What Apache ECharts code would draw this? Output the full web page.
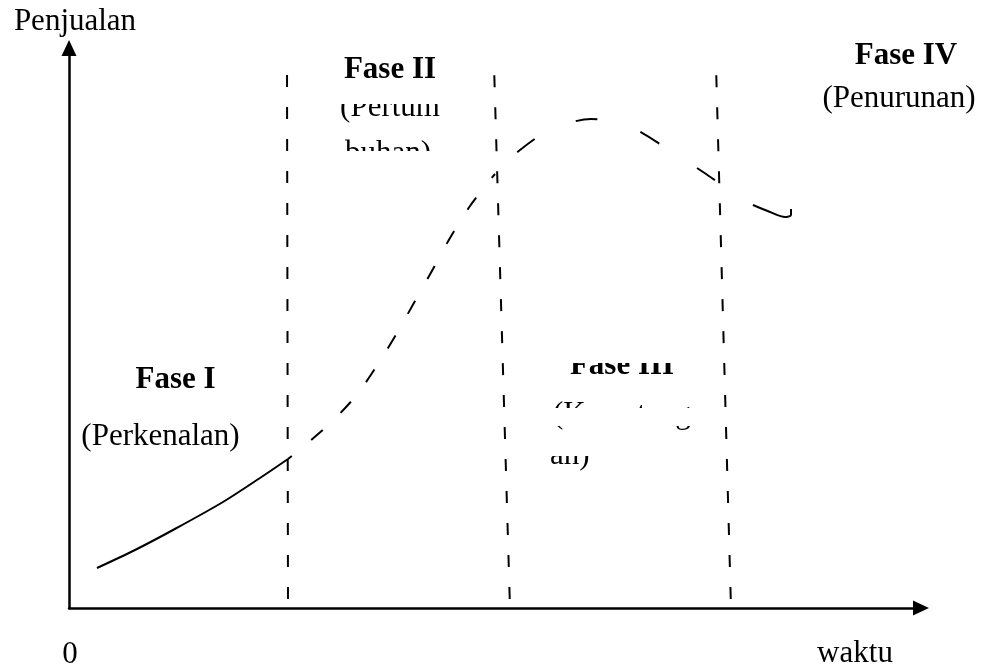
<!DOCTYPE html>
<html>
<head>
<meta charset="utf-8">
<script src="https://cdn.jsdelivr.net/npm/echarts@6/dist/echarts.min.js"></script>
<style>
html, body { margin: 0; background: #fff; }
#main { width: 984px; height: 670px; }
</style>
</head>
<body>
<div id="main"></div>
<script>
// axis units: x from the vertical axis, y up from the time axis
var introX = [28, 66, 104, 154, 191, 219];
var introY = [40, 58, 78, 106, 130, 149];
var growthX = [219, 256, 286, 309, 328, 346, 364, 381, 401, 426];
var growthY = [149, 180, 211, 244, 275, 307, 339, 370, 402, 434];
var laterX = [426, 451, 481, 522, 561, 594, 634, 666, 684];
var laterY = [434, 458, 478, 489, 481, 462, 436, 414, 403];
var tailX = [684, 701, 716, 722, 722];
var tailY = [403, 396, 391, 393, 399];

// phase borders (dashed, slightly slanted)
var borderBottomX = [219, 441, 662];
var borderTopX = [218, 425, 647];
var borderTopY = 543;

var phaseTitles = ['Fase I', 'Fase II', 'Fase III', 'Fase IV'];
var phaseNames = [['(Perkenalan)'], ['(Pertum', 'buhan)'], ['(Kematang', 'an)'], ['(Penurunan)']];

function pairs(xs, ys) {
    return xs.map(function (x, i) { return [x, ys[i]]; });
}

var serif = '"Liberation Serif", "Times New Roman", serif';
var normalFont = '31px ' + serif;
var boldFont = 'bold 31px ' + serif;

function txt(text, x, y, font, align) {
    return {
        type: 'text',
        x: x,
        y: y,
        z: 50,
        style: {
            text: text,
            font: font,
            fill: '#000',
            align: align || 'center',
            verticalAlign: 'middle'
        }
    };
}
function blank(x, y, w, h) {
    return {
        type: 'rect',
        z: 60,
        shape: { x: x, y: y, width: w, height: h },
        style: { fill: '#fff' }
    };
}

var series = [];
borderBottomX.forEach(function (bx, i) {
    series.push({
        type: 'line',
        data: [[bx, 0], [borderTopX[i], borderTopY]],
        symbol: 'none',
        silent: true,
        lineStyle: { color: '#000', width: 2, type: [12, 20], dashOffset: 23 }
    });
});
series.push({
    type: 'line',
    data: pairs(introX, introY),
    symbol: 'none',
    smooth: 0.3,
    lineStyle: { color: '#000', width: 2 }
});
series.push({
    type: 'line',
    data: pairs(growthX, growthY),
    symbol: 'none',
    smooth: 0.3,
    lineStyle: { color: '#000', width: 2, type: [15, 25], dashOffset: 10 }
});
series.push({
    type: 'line',
    data: pairs(laterX, laterY),
    symbol: 'none',
    smooth: 0.3,
    lineStyle: { color: '#000', width: 2, type: [22, 45], dashOffset: 36 }
});
series.push({
    type: 'line',
    data: pairs(tailX, tailY),
    symbol: 'none',
    smooth: 0.3,
    lineStyle: { color: '#000', width: 2 }
});

var myChart = echarts.init(document.getElementById('main'));
var option = {
    backgroundColor: '#fff',
    animation: false,
    grid: { left: 69, right: 63, top: 48, bottom: 62 },
    xAxis: {
        type: 'value',
        min: 0,
        max: 852,
        axisLine: {
            lineStyle: { color: '#000', width: 2.5 },
            symbol: ['none', 'triangle'],
            symbolSize: [15, 16]
        },
        axisTick: { show: false },
        axisLabel: { show: false },
        splitLine: { show: false }
    },
    yAxis: {
        type: 'value',
        min: 0,
        max: 560,
        axisLine: {
            show: true,
            lineStyle: { color: '#000', width: 2.5 },
            symbol: ['none', 'triangle'],
            symbolSize: [15, 16]
        },
        axisTick: { show: false },
        axisLabel: { show: false },
        splitLine: { show: false }
    },
    graphic: [
        txt('Penjualan', 75, 21.5, normalFont),
        txt('0', 70, 654.5, normalFont),
        txt('waktu', 855, 653.5, normalFont),
        txt(phaseTitles[0], 175.5, 379.5, boldFont),
        txt(phaseNames[0][0], 160.5, 436.5, normalFont),
        txt(phaseTitles[1], 390, 69.5, boldFont),
        txt(phaseNames[1][0], 390, 107.5, normalFont),
        txt(phaseNames[1][1], 388, 153.5, normalFont),
        txt(phaseTitles[2], 622, 365.5, boldFont),
        txt(phaseNames[2][0], 553, 414.5, normalFont, 'left'),
        txt(phaseNames[2][1], 550, 455.5, normalFont, 'left'),
        txt(phaseTitles[3], 906, 55.5, boldFont),
        txt(phaseNames[3][0], 899, 98.5, normalFont),
        // faded parts of the scanned labels
        blank(335, 86, 110, 18),
        blank(335, 151, 110, 24),
        blank(560, 340, 130, 23),
        blank(545, 408, 155, 18),
        blank(545, 433, 155, 23)
    ],
    series: series
};
myChart.setOption(option);
</script>
</body>
</html>
